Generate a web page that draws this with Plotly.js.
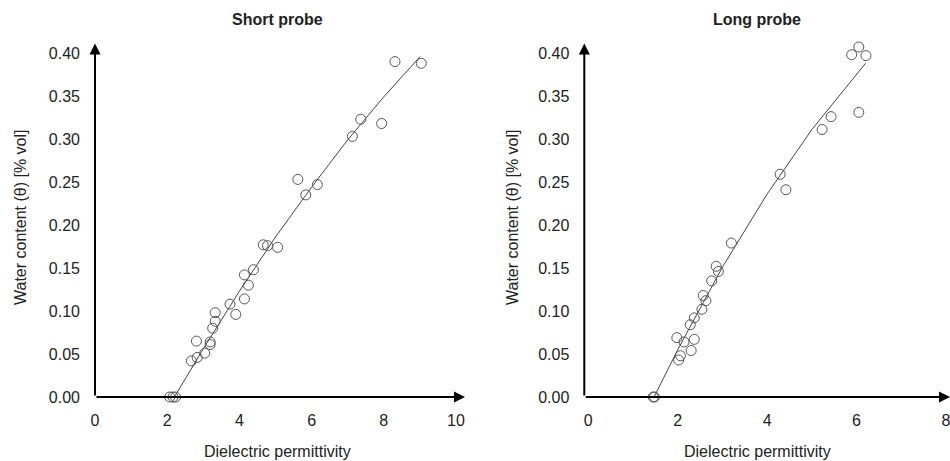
<!DOCTYPE html>
<html>
<head>
<meta charset="utf-8">
<script src="https://cdn.plot.ly/plotly-3.0.1.min.js"></script>
<style>html,body{margin:0;padding:0;background:#fff;}#chart{width:950px;height:461px;}</style>
</head>
<body>
<div id="chart"></div>
<script>
// Short probe measurements
const shortX = [8.31, 9.04, 7.36, 7.94, 7.13, 5.62, 6.16, 5.84, 4.66, 4.78, 5.06, 4.39, 4.14, 4.25, 4.14, 3.74, 3.90, 3.33, 3.33, 3.26, 2.81, 3.19, 3.19, 3.04, 2.83, 2.67, 2.07, 2.16, 2.23];
const shortY = [0.390, 0.388, 0.323, 0.318, 0.303, 0.253, 0.247, 0.235, 0.177, 0.176, 0.174, 0.148, 0.142, 0.130, 0.114, 0.108, 0.096, 0.098, 0.088, 0.080, 0.065, 0.064, 0.061, 0.051, 0.046, 0.042, 0.000, 0.000, 0.000];
// Short probe fitted curve
const shortFitX = [2.2, 3, 4, 5, 6, 7, 8, 9.01];
const shortFitY = [0.000, 0.056, 0.123, 0.186, 0.244, 0.299, 0.349, 0.396];

// Long probe measurements
const longX = [6.05, 5.89, 6.21, 6.05, 5.43, 5.23, 4.29, 4.42, 3.20, 2.86, 2.91, 2.76, 2.57, 2.63, 2.54, 2.37, 2.28, 1.98, 2.14, 2.37, 2.30, 2.06, 2.02, 1.45, 1.48];
const longY = [0.407, 0.398, 0.397, 0.331, 0.326, 0.311, 0.259, 0.241, 0.179, 0.152, 0.146, 0.135, 0.118, 0.112, 0.102, 0.092, 0.084, 0.069, 0.064, 0.067, 0.054, 0.048, 0.043, 0.000, 0.000];
// Long probe fitted curve
const longFitX = [1.47, 2, 3, 4, 5, 6, 6.2];
const longFitY = [0.000, 0.055, 0.151, 0.236, 0.311, 0.376, 0.388];

const yTicks = [0, 0.05, 0.10, 0.15, 0.20, 0.25, 0.30, 0.35, 0.40];
const xTicksShort = [0, 2, 4, 6, 8, 10];
const xTicksLong = [0, 2, 4, 6, 8];

const FONT = 'Liberation Sans, Arial, sans-serif';
const FS = 16;
const markerStyle = {symbol: 'circle-open', size: 10, color: '#555', line: {width: 1, color: '#555'}};
const lineStyle = {color: '#444', width: 1};

const traces = [
  {x: shortFitX, y: shortFitY, mode: 'lines', line: lineStyle, xaxis: 'x', yaxis: 'y', hoverinfo: 'skip', cliponaxis: false},
  {x: shortX, y: shortY, mode: 'markers', marker: markerStyle, xaxis: 'x', yaxis: 'y', cliponaxis: false},
  {x: longFitX, y: longFitY, mode: 'lines', line: lineStyle, xaxis: 'x2', yaxis: 'y2', hoverinfo: 'skip', cliponaxis: false},
  {x: longX, y: longY, mode: 'markers', marker: markerStyle, xaxis: 'x2', yaxis: 'y2', cliponaxis: false}
];

const yDom = [(461 - 397) / 461, (461 - 44.4) / 461];
function xAxis(dom, range, ticks) {
  return {domain: dom, range: range, tickvals: ticks, ticktext: ticks.map(String),
    showgrid: false, zeroline: false, showline: false, ticks: '', ticklabeloverflow: 'allow',
    ticklabelstandoff: 12, tickfont: {family: FONT, size: FS, color: '#222'}, fixedrange: true};
}
function yAxis(anchor) {
  return {domain: yDom, range: [0, 0.41], anchor: anchor, tickvals: yTicks, ticktext: yTicks.map(v => v.toFixed(2)),
    showgrid: false, zeroline: false, showline: false, ticks: '', ticklabeloverflow: 'allow',
    ticklabelstandoff: 14, tickfont: {family: FONT, size: FS, color: '#222'}, fixedrange: true};
}

function arrow(xref, yref, x0, y0, x1, y1) {
  return {xref: xref, yref: yref, axref: xref, ayref: yref, x: x1, y: y1, ax: x0, ay: y0,
    text: '', showarrow: true, arrowhead: 2, arrowsize: 1.1, arrowwidth: 2, arrowcolor: '#000', standoff: 0, startstandoff: 0};
}

function label(px, py, text, angle) {
  return {xref: 'paper', yref: 'paper', x: px / 950, y: 1 - py / 461, text: text, showarrow: false, textangle: angle || 0,
    font: {family: FONT, size: FS, color: '#222'}, xanchor: 'center', yanchor: 'middle'};
}

const annotations = [
  arrow('x', 'y', 0, 0, 10.25, 0),
  arrow('x', 'y', 0, 0, 0, 0.411),
  arrow('x2', 'y2', -0.09, 0, 8.09, 0),
  arrow('x2', 'y2', -0.09, 0, -0.09, 0.411),
  label(277, 19, '<b>Short probe</b>'),
  label(757, 19, '<b>Long probe</b>'),
  label(277, 451, 'Dielectric permittivity'),
  label(757, 451, 'Dielectric permittivity'),
  label(20, 218, 'Water content (θ) [% vol]', -90),
  label(512, 218, 'Water content (θ) [% vol]', -90)
];

const layout = {
  width: 950, height: 461,
  margin: {l: 0, r: 0, t: 0, b: 0},
  paper_bgcolor: '#fff', plot_bgcolor: '#fff',
  showlegend: false,
  font: {family: FONT, size: FS, color: '#222'},
  xaxis: xAxis([95 / 950, 465 / 950], [0, 10.25], xTicksShort),
  yaxis: yAxis('x'),
  xaxis2: xAxis([584.3 / 950, 1], [-0.09, 8.09], xTicksLong),
  yaxis2: yAxis('x2'),
  annotations: annotations
};
layout.xaxis.anchor = 'y';
layout.xaxis2.anchor = 'y2';

Plotly.newPlot('chart', traces, layout, {displayModeBar: false, staticPlot: true});
</script>
</body>
</html>
